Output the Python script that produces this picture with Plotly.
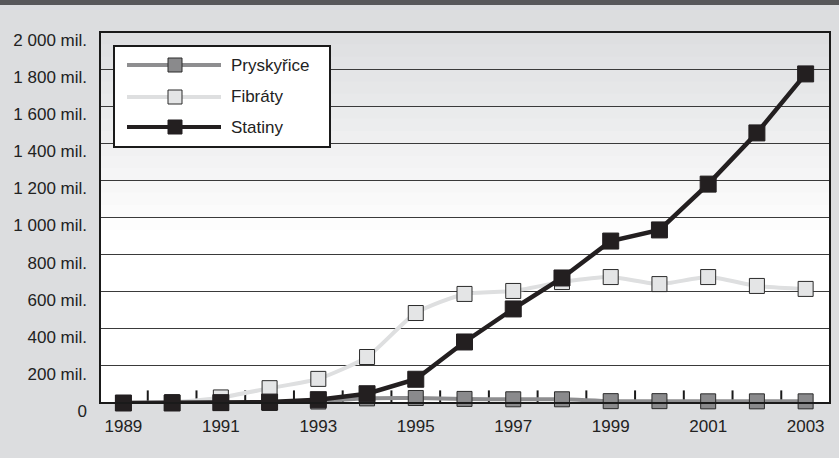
import plotly.graph_objects as go

years = list(range(1989, 2004))
pryskyrice = [0, 0, 0, 0, 8, 25, 27, 22, 20, 20, 10, 10, 9, 9, 9]
fibraty = [0, 5, 30, 80, 130, 248, 485, 588, 604, 652, 679, 641, 679, 631, 615]
statiny = [0, 0, 2, 5, 18, 50, 128, 329, 507, 674, 873, 933, 1180, 1456, 1774]
series_names = ["Pryskyřice", "Fibráty", "Statiny"]
y_ticks = [0, 200, 400, 600, 800, 1000, 1200, 1400, 1600, 1800, 2000]
y_labels = ["0"] + [f"{v // 1000} {v % 1000:03d} mil." if v >= 1000 else f"{v} mil." for v in y_ticks[1:]]
x_ticks = [1989, 1991, 1993, 1995, 1997, 1999, 2001, 2003]
x_minor_ticks = [y + 0.5 for y in years[:-1]]

FONT = "Liberation Sans, Arial, Helvetica, sans-serif"
C_PRY_LINE, C_PRY_MARK = "#8e8e90", "#8a8a8c"
C_FIB_LINE, C_FIB_MARK = "#dedfe0", "#e4e5e6"
C_STA = "#231f20"
X_RANGE = [1988.52, 2003.5]

fig = go.Figure()
# category-boundary tick marks on the x axis (lower half clipped by the plot area)
fig.add_trace(go.Scatter(x=x_minor_ticks, y=[0] * len(x_minor_ticks), mode="markers",
                         marker=dict(symbol="line-ns", size=18, line=dict(color="#1a1a1a", width=2)),
                         showlegend=False, hoverinfo="skip"))
fig.add_trace(go.Scatter(x=years, y=fibraty, name=series_names[1], mode="lines+markers",
                         line=dict(color=C_FIB_LINE, width=4, shape="spline", smoothing=0.6),
                         marker=dict(symbol="square", size=15, color=C_FIB_MARK, line=dict(color="#2a2a2a", width=1)),
                         cliponaxis=False, showlegend=False))
fig.add_trace(go.Scatter(x=years, y=pryskyrice, name=series_names[0], mode="lines+markers",
                         line=dict(color=C_PRY_LINE, width=4, shape="spline", smoothing=0.6),
                         marker=dict(symbol="square", size=15, color=C_PRY_MARK, line=dict(color="#2a2a2a", width=1)),
                         cliponaxis=False, showlegend=False))
fig.add_trace(go.Scatter(x=years, y=statiny, name=series_names[2], mode="lines+markers",
                         line=dict(color=C_STA, width=4.5),
                         marker=dict(symbol="square", size=16, color=C_STA, line=dict(color=C_STA, width=1)),
                         cliponaxis=False, showlegend=False))

shapes = []
# top dark bar
shapes.append(dict(type="rect", xref="paper", yref="paper", x0=-0.2, x1=1.1, y0=1.0728, y1=1.12,
                   fillcolor="#58585a", line=dict(width=0), layer="below"))
# gradient in plot area
n = 30
top_c = (221, 222, 224)
for i in range(n):
    f0 = i / n
    f1 = (i + 1) / n
    t = min(1.0, (f0 + 0.5 / n) / 0.55)
    c = tuple(int(round(top_c[k] + (255 - top_c[k]) * t)) for k in range(3))
    shapes.append(dict(type="rect", xref="x domain", yref="y domain", x0=0, x1=1,
                       y0=max(0, 1 - f1 - 0.006), y1=1 - f0, fillcolor=f"rgb{c}",
                       line=dict(width=0), layer="below"))
# plot border
shapes.append(dict(type="rect", xref="x domain", yref="y domain", x0=0, x1=1, y0=0, y1=1,
                   line=dict(color="#1a1a1a", width=2), layer="above"))

# manual legend
def px_x(p):
    return (p - 100) / 730.0

def px_y(p):
    return (403 - p) / 371.0

shapes.append(dict(type="rect", xref="paper", yref="paper", x0=px_x(114), x1=px_x(330),
                   y0=px_y(147), y1=px_y(46), fillcolor="white", line=dict(color="#1a1a1a", width=2),
                   layer="above"))
annotations = []
rows = [(65, series_names[0], C_PRY_LINE, C_PRY_MARK, "#2a2a2a"),
        (97, series_names[1], C_FIB_LINE, C_FIB_MARK, "#2a2a2a"),
        (127, series_names[2], C_STA, C_STA, C_STA)]
for py, name, lc, mc, mlc in rows:
    shapes.append(dict(type="line", xref="paper", yref="paper", x0=px_x(127), x1=px_x(221),
                       y0=px_y(py), y1=px_y(py), line=dict(color=lc, width=4), layer="above"))
    shapes.append(dict(type="rect", xref="paper", yref="paper", xsizemode="pixel", ysizemode="pixel",
                       xanchor=px_x(175), yanchor=px_y(py), x0=-7, x1=7, y0=-7, y1=7,
                       fillcolor=mc, line=dict(color=mlc, width=1), layer="above"))
    annotations.append(dict(xref="paper", yref="paper", x=px_x(229), y=px_y(py), text=name,
                            showarrow=False, xanchor="left", yanchor="middle",
                            font=dict(family=FONT, size=17, color="#222")))

fig.update_layout(
    width=839, height=458,
    margin=dict(l=100, r=9, t=32, b=55),
    paper_bgcolor="#dcdddf",
    plot_bgcolor="rgba(0,0,0,0)",
    font=dict(family=FONT, size=17, color="#222"),
    shapes=shapes,
    annotations=annotations,
    xaxis=dict(range=X_RANGE, tickmode="array", tickvals=x_ticks,
               ticktext=[str(v) for v in x_ticks], ticks="", showgrid=False, zeroline=False,
               showline=False, ticklabelstandoff=11,
               tickfont=dict(family=FONT, size=17, color="#222")),
    yaxis=dict(range=[0, 2000], tickmode="array", tickvals=y_ticks, ticktext=y_labels,
               ticks="", showgrid=True, gridcolor="#3a3a3a", gridwidth=1, zeroline=False,
               showline=False, ticklabelstandoff=12, ticklabelshift=8,
               tickfont=dict(family=FONT, size=17, color="#222")),
)

fig.write_html("out.html", post_script="document.body.style.margin='0';",
               config={"displayModeBar": False})
